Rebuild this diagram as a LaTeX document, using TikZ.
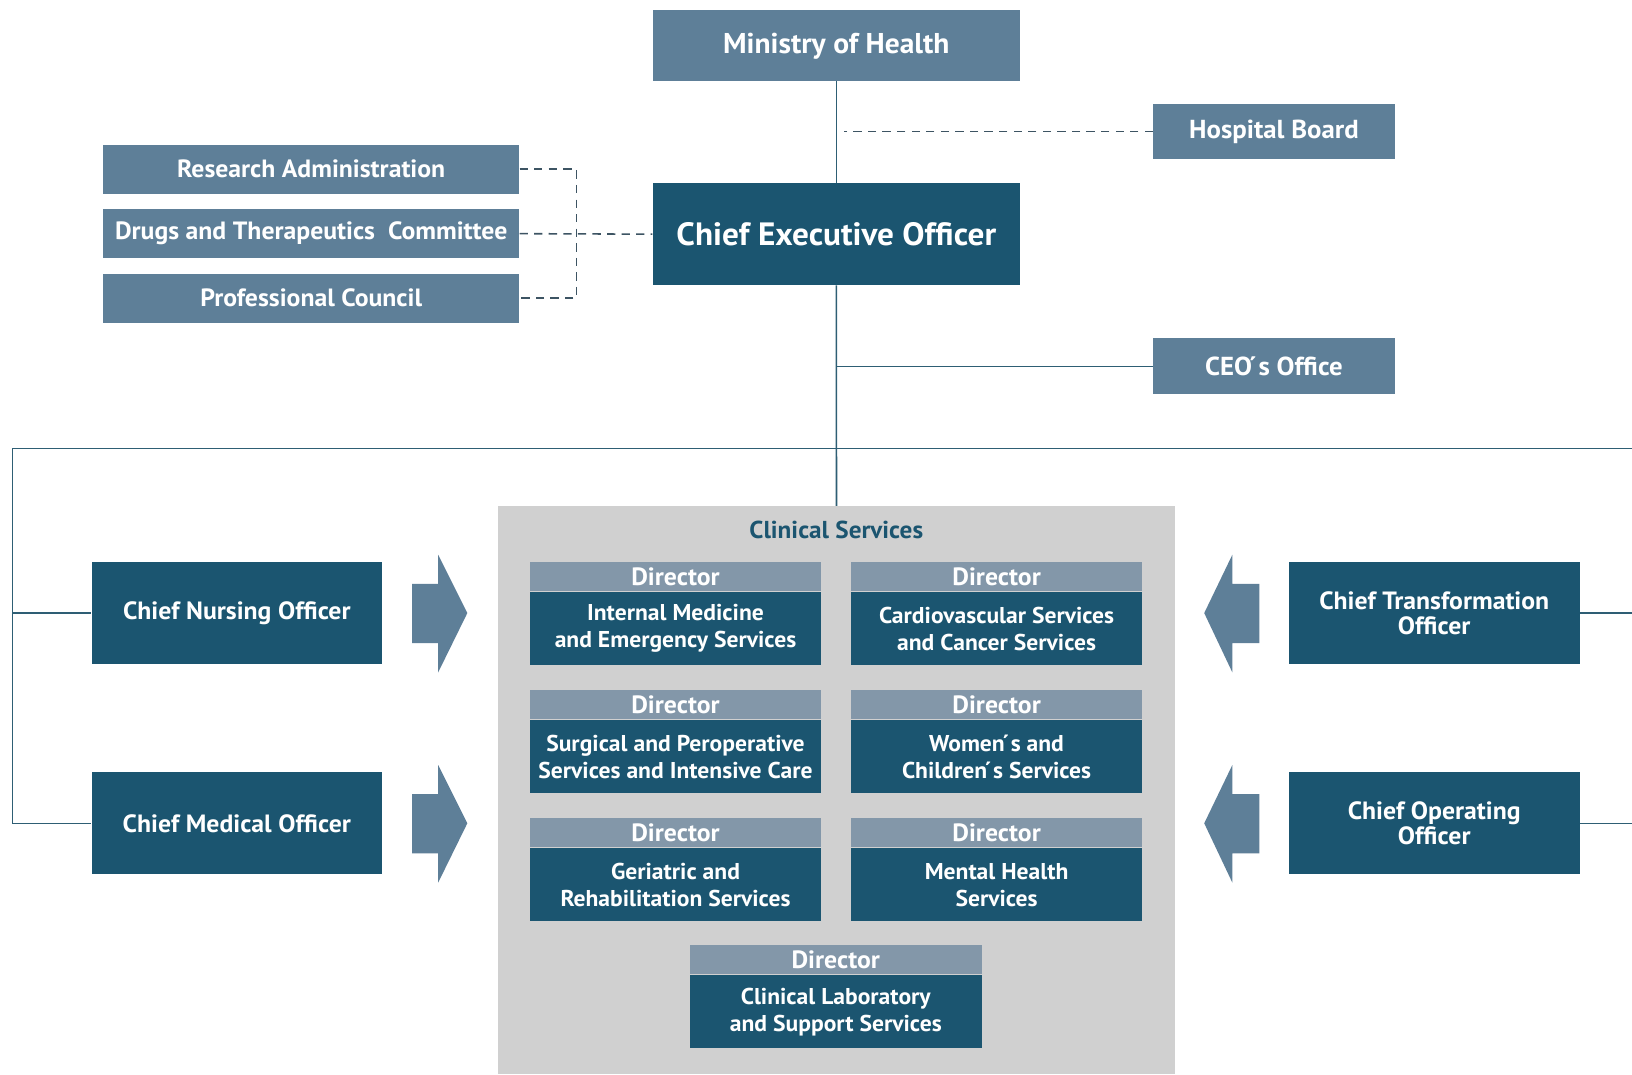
\documentclass[tikz,border=0pt]{standalone}
\usepackage{fontspec}
\setmainfont{PT Sans}[FakeStretch=1.03]
\usetikzlibrary{calc}
\definecolor{lightbox}{HTML}{5E7F98}
\definecolor{darkbox}{HTML}{1B5570}
\definecolor{headbox}{HTML}{8397A9}
\definecolor{graybg}{HTML}{D0D0D0}
\definecolor{linec}{HTML}{2E5E74}
\definecolor{dashc}{HTML}{3D5463}
\definecolor{arrowc}{HTML}{5E7F98}
\tikzset{
  box/.style={rectangle, inner sep=0pt, text=white, align=center, font=\bfseries\fontsize{24}{26}\selectfont},
  lbox/.style={box, fill=lightbox},
  dbox/.style={box, fill=darkbox},
  hbox/.style={box, fill=headbox, minimum width=280pt, minimum height=28pt, font=\bfseries\fontsize{24}{26}\selectfont},
  bbox/.style={box, fill=darkbox, minimum width=280pt, minimum height=70pt, font=\bfseries\fontsize{22}{26}\selectfont},
  conn/.style={draw=linec, line width=1.5pt},
  dconn/.style={draw=dashc, line width=1.5pt, dash pattern=on 8pt off 6pt},
  bigarrow/.style={fill=arrowc, draw=none}
}
\begin{document}
\begin{tikzpicture}[x=1pt, y=-1pt]
\useasboundingbox (0,0) rectangle (1568,1032);
\fill[white] (0,0) rectangle (1568,1032);

% top nodes
\node[lbox, minimum width=353pt, minimum height=68pt, font=\bfseries\fontsize{27.5}{30}\selectfont] (moh) at (803.5,44) {Ministry of Health};
\node[lbox, minimum width=232pt, minimum height=53pt, font=\bfseries\fontsize{25}{28}\selectfont] (hb) at (1224,126.5) {Hospital Board};
\node[dbox, minimum width=353pt, minimum height=98pt, font=\bfseries\fontsize{31}{34}\selectfont] (ceo) at (803.5,225) {Chief Executive Officer};
\node[lbox, minimum width=400pt, minimum height=47pt] (ra) at (299,162.5) {Research Administration};
\node[lbox, minimum width=400pt, minimum height=47pt] (dtc) at (299,224.5) {Drugs and Therapeutics\ \ Committee};
\node[lbox, minimum width=400pt, minimum height=47pt] (pc) at (299,286.5) {Professional Council};
\node[lbox, minimum width=232pt, minimum height=54pt, font=\bfseries\fontsize{25}{28}\selectfont] (ceoo) at (1224,352) {CEO\'{}s Office};

% side officers
\node[dbox, minimum width=279pt, minimum height=98pt] (cno) at (227.5,589) {Chief Nursing Officer};
\node[dbox, minimum width=279pt, minimum height=98pt] (cmo) at (227.5,791) {Chief Medical Officer};
\node[dbox, minimum width=280pt, minimum height=98pt] (cto) at (1378,589) {Chief Transformation\\[-2pt]Officer};
\node[dbox, minimum width=280pt, minimum height=98pt] (coo) at (1378,791) {Chief Operating\\[-2pt]Officer};

% clinical services
\node[fill=graybg, inner sep=0pt, minimum width=651pt, minimum height=546pt, anchor=north west] (clin) at (478,486) {};
\node[text=darkbox, font=\bfseries\fontsize{23.5}{26}\selectfont] (clint) at (803.5,509) {Clinical Services};

\node[hbox] (d1h) at (649,554) {Director};
\node[bbox] (d1b) at (649,604) {Internal Medicine\\and Emergency Services};
\node[hbox] (d2h) at (957.5,554) {Director};
\node[bbox] (d2b) at (957.5,604) {Cardiovascular Services\\and Cancer Services};
\node[hbox] (d3h) at (649,677) {Director};
\node[bbox] (d3b) at (649,727) {Surgical and Peroperative\\Services and Intensive Care};
\node[hbox] (d4h) at (957.5,677) {Director};
\node[bbox] (d4b) at (957.5,727) {Women\'{}s and\\Children\'{}s Services};
\node[hbox] (d5h) at (649,800) {Director};
\node[bbox] (d5b) at (649,850) {Geriatric and\\Rehabilitation Services};
\node[hbox] (d6h) at (957.5,800) {Director};
\node[bbox] (d6b) at (957.5,850) {Mental Health\\Services};
\node[hbox] (d7h) at (803,922) {Director};
\node[bbox] (d7b) at (803,972) {Clinical Laboratory\\and Support Services};

% big arrows
\fill[bigarrow] (396,561) -- (421,561) -- (421,533) -- (449,589) -- (421,646) -- (421,618) -- (396,618) -- cycle;
\fill[bigarrow] (396,763) -- (421,763) -- (421,735) -- (449,791) -- (421,848) -- (421,820) -- (396,820) -- cycle;
\fill[bigarrow] (1210,561) -- (1184,561) -- (1184,533) -- (1157,589) -- (1184,646) -- (1184,618) -- (1210,618) -- cycle;
\fill[bigarrow] (1210,763) -- (1184,763) -- (1184,735) -- (1157,791) -- (1184,848) -- (1184,820) -- (1210,820) -- cycle;

% connectors
\coordinate (jn) at (554,224.5);
\coordinate (hl) at (12,431);
\coordinate (hr) at (1568,431);
\draw[conn] (moh.south) -- (ceo.north);
\draw[dconn] (hb.west) -- ($(hb.west -| moh.south)+(7,0)$);
\draw[conn] (ceo.south) -- (clin.north);
\draw[conn] (ceoo.west) -- (ceoo.west -| ceo.south);
\draw[dconn] (ra.east) -- (ra.east -| jn) -- (pc.east -| jn) -- (pc.east);
\draw[dconn] (dtc.east) -- (ceo.west);
\draw[conn] (hl) -- (hr);
\draw[conn] (hl) |- (cmo.west);
\draw[conn] (hl |- cno.west) -- (cno.west);
\draw[conn] (cto.east) -- (cto.east -| hr);
\draw[conn] (coo.east) -- (coo.east -| hr);
\end{tikzpicture}
\end{document}
